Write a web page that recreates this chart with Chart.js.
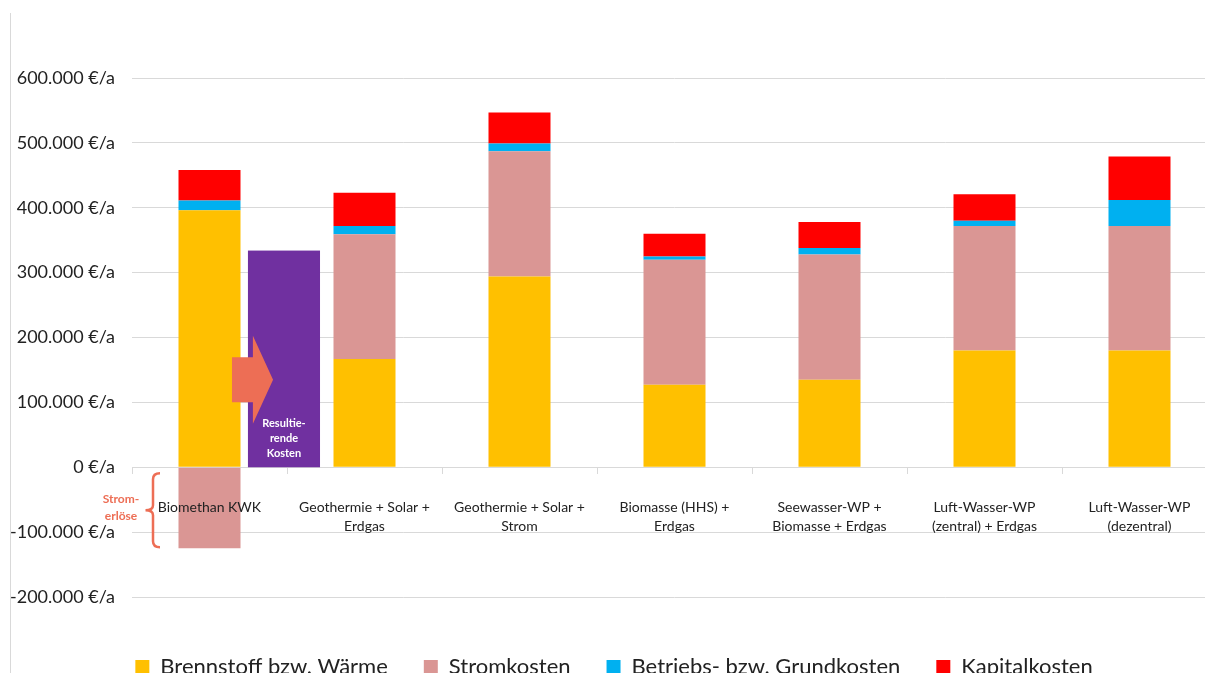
<!DOCTYPE html>
<html>
<head>
<meta charset="utf-8">
<script src="https://cdn.jsdelivr.net/npm/chart.js@4.4.0/dist/chart.umd.min.js"></script>
<style>
html, body { margin: 0; padding: 0; background: #fff; overflow: hidden; width: 1205px; height: 673px; }
#frame { position: absolute; left: 10px; top: 13px; border-left: 1px solid #d9d9d9; width: 1212px; height: 720px; }
#chart { display: block; }
</style>
</head>
<body>
<div id="frame"><canvas id="chart" width="1212" height="675"></canvas></div>
<script>
/**categories on the x axis */
const categories = [
    "Biomethan KWK",
    ["Geothermie + Solar +", "Erdgas"],
    ["Geothermie + Solar +", "Strom"],
    ["Biomasse (HHS) +", "Erdgas"],
    ["Seewasser-WP +", "Biomasse + Erdgas"],
    ["Luft-Wasser-WP", "(zentral) + Erdgas"],
    ["Luft-Wasser-WP", "(dezentral)"],
];
/**cost parts in €/a */
const brennstoff = [396000, 167000, 294000, 127000, 135000, 180000, 180000];
const stromkosten = [-125000, 192000, 193000, 193000, 193000, 192000, 192000];
const betriebskosten = [15000, 13000, 12000, 5000, 10000, 8000, 40000];
const kapitalkosten = [47000, 51000, 48000, 35000, 40000, 41000, 67000];
/**resulting cost of the first option (purple bar) and where the arrow sits */
const resultingCosts = [334000];
const arrowLevel = [135000];
/**y axis range */
const yMin = -200000;
const yMax = 600000;
const yStep = 100000;

const coral = "#ED6E55";

/**
 * format a number like 600.000 €/a
 * @param {number} v value
 * @returns {string} label
 */
function euroLabel(v) {
    const s = String(Math.abs(v)).replace(/\B(?=(\d{3})+(?!\d))/g, ".");
    return (v < 0 ? "-" : "") + s + " €/a";
}

/**draws the purple bar, the arrow and the bracket with its text */
const notesPlugin = {
    id: "notes",
    afterDatasetsDraw(chart) {
        const { ctx, scales: { x, y } } = chart;
        const catW = x.width / categories.length;
        const cx = x.getPixelForValue(0);
        const y0 = y.getPixelForValue(0);
        ctx.save();

        // resulting cost bar
        const left = cx + 0.248 * catW;
        const right = cx + 0.713 * catW;
        const top = y.getPixelForValue(resultingCosts[0]);
        ctx.fillStyle = "#7030A0";
        ctx.fillRect(left, top, right - left, y0 - top);

        // arrow
        const ay = y.getPixelForValue(arrowLevel[0]);
        const shaftL = cx + 0.145 * catW;
        const headL = cx + 0.28 * catW;
        const tip = cx + 0.41 * catW;
        const sh = 0.145 * catW;
        const hh = 0.284 * catW;
        ctx.fillStyle = coral;
        ctx.beginPath();
        ctx.moveTo(shaftL, ay - sh);
        ctx.lineTo(headL, ay - sh);
        ctx.lineTo(headL, ay - hh);
        ctx.lineTo(tip, ay);
        ctx.lineTo(headL, ay + hh);
        ctx.lineTo(headL, ay + sh);
        ctx.lineTo(shaftL, ay + sh);
        ctx.closePath();
        ctx.fill();

        // text in purple bar
        ctx.fillStyle = "#fff";
        ctx.font = "bold 11px Lato";
        ctx.textAlign = "center";
        ctx.textBaseline = "middle";
        const mx = (left + right) / 2;
        ctx.fillText("Resultie-", mx, y0 - 43.5);
        ctx.fillText("rende", mx, y0 - 28.5);
        ctx.fillText("Kosten", mx, y0 - 13.5);

        // bracket for the negative part
        const barLeft = cx - 0.2 * catW;
        const bTop = y0 + 6;
        const bBot = y.getPixelForValue(stromkosten[0]) - 1;
        const mid = (bTop + bBot) / 2;
        const xe = barLeft - 18.5;
        const xs = barLeft - 25.5;
        const xn = barLeft - 33;
        ctx.strokeStyle = coral;
        ctx.lineWidth = 2.5;
        ctx.beginPath();
        ctx.moveTo(xe, bTop);
        ctx.quadraticCurveTo(xs, bTop, xs, bTop + 6);
        ctx.lineTo(xs, mid - 5);
        ctx.quadraticCurveTo(xs, mid, xn, mid);
        ctx.quadraticCurveTo(xs, mid, xs, mid + 5);
        ctx.lineTo(xs, bBot - 6);
        ctx.quadraticCurveTo(xs, bBot, xe, bBot);
        ctx.stroke();

        ctx.fillStyle = coral;
        ctx.font = "bold 12px Lato";
        ctx.fillText("Strom-", cx - 88.5, mid - 11);
        ctx.fillText("erlöse", cx - 88.5, mid + 6);
        ctx.restore();
    },
};

Chart.defaults.font.family = "Lato";
Chart.defaults.color = "#333";

const ctx = document.getElementById("chart").getContext("2d");
const costChart = new Chart(ctx, {
    type: "bar",
    data: {
        labels: categories,
        datasets: [
            { label: "Brennstoff bzw. Wärme", data: brennstoff, backgroundColor: "#FFC000" },
            { label: "Stromkosten", data: stromkosten, backgroundColor: "#DA9694" },
            { label: "Betriebs- bzw. Grundkosten", data: betriebskosten, backgroundColor: "#00B0F0" },
            { label: "Kapitalkosten", data: kapitalkosten, backgroundColor: "#FF0000" },
        ],
    },
    options: {
        responsive: false,
        animation: false,
        barPercentage: 0.4,
        categoryPercentage: 1,
        layout: { padding: { top: 65, right: 6, left: 0, bottom: 0 } },
        plugins: {
            tooltip: { enabled: false },
            legend: {
                position: "bottom",
                title: { display: true, text: "", padding: { top: 5, bottom: 0 }, font: { size: 15 } },
                labels: {
                    boxWidth: 14,
                    boxHeight: 14,
                    padding: 36,
                    font: { size: 22 },
                    color: "#222",
                },
            },
        },
        scales: {
            x: {
                stacked: true,
                position: { y: 0 },
                grid: {
                    drawOnChartArea: false,
                    drawTicks: true,
                    tickLength: 6,
                    color: "#d9d9d9",
                },
                border: { display: true, color: "#d9d9d9" },
                ticks: {
                    z: 1,
                    autoSkip: false,
                    maxRotation: 0,
                    padding: 25,
                    color: "#222",
                    font: { size: 14, lineHeight: 1.36 },
                },
            },
            y: {
                stacked: true,
                min: yMin,
                max: yMax,
                afterFit(scale) {
                    scale.width = 121;
                },
                grid: { color: "#d9d9d9", drawTicks: false },
                border: { display: false },
                ticks: {
                    stepSize: yStep,
                    padding: 17,
                    color: "#222",
                    font: { size: 18 },
                    callback: (v) => euroLabel(v),
                },
            },
        },
    },
    plugins: [notesPlugin],
});
</script>
</body>
</html>
